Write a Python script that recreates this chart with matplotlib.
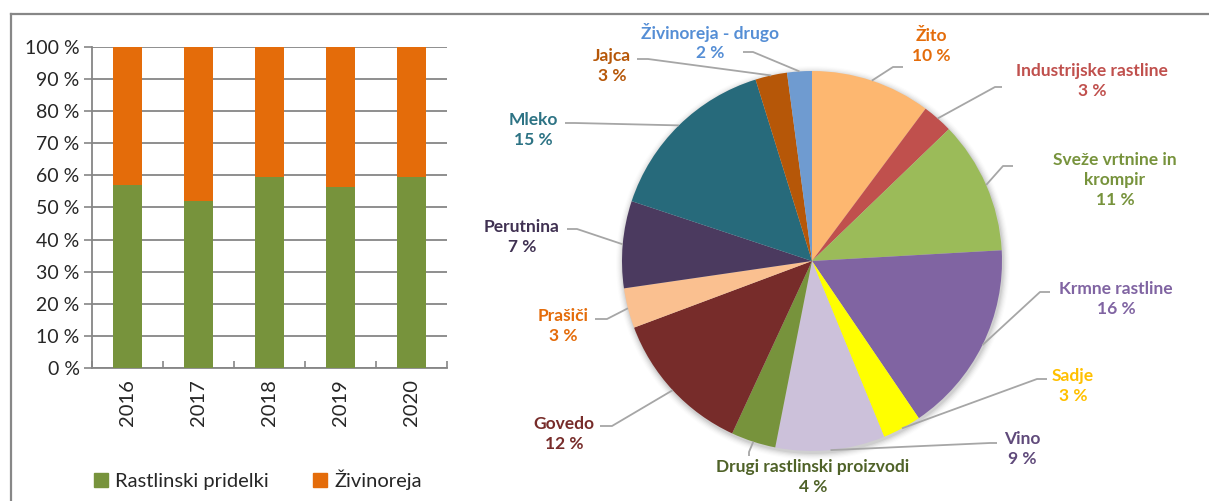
import numpy as np
import matplotlib
matplotlib.use("Agg")
import matplotlib.pyplot as plt
from matplotlib.lines import Line2D
from matplotlib.patches import Patch

plt.rcParams['font.family'] = ['Lato', 'DejaVu Sans']

# ---------------- data ----------------
years = ["2016", "2017", "2018", "2019", "2020"]
rastlinski = [0.57, 0.52, 0.595, 0.565, 0.595]
zivinoreja = [1 - v for v in rastlinski]
bar_series = ["Rastlinski pridelki", "Živinoreja"]
y_ticks = [0, 10, 20, 30, 40, 50, 60, 70, 80, 90, 100]

pie_names = ["Žito", "Industrijske rastline", "Sveže vrtnine in\nkrompir", "Krmne rastline",
             "Sadje", "Vino", "Drugi rastlinski proizvodi", "Govedo", "Prašiči",
             "Perutnina", "Mleko", "Jajca", "Živinoreja - drugo"]
pie_values = [10.2, 2.6, 11.3, 16.4, 3.3, 9.3, 3.8, 12.4, 3.4, 7.4, 15.1, 2.7, 2.1]

# ---------------- styles ----------------
W, H = 1209, 501
bar_colors = ["#77933C", "#E46C0A"]
pie_colors = ["#FDB770", "#C0504D", "#9BBB59", "#8064A2", "#FFFF00", "#CCC1DA",
              "#77933C", "#772C2A", "#FAC090", "#4B3A5F", "#276A7B", "#B65708", "#6F9BD0"]
label_colors = ["#E46C0A", "#C0504D", "#77933C", "#8064A2", "#FFC000", "#604A7B",
                "#4F6228", "#772C2A", "#E46C0A", "#403152", "#2D7384", "#B65708", "#558ED5"]
# label block centres (px, y down)
label_pos = [(931, 46), (1092, 81), (1115, 180), (1116, 299), (1073, 386), (1022, 449),
             (813, 477), (564, 434), (563, 326), (522, 237), (533, 130), (612, 66), (710, 42)]
# leader line start & elbow (px, y down)
leader_start = [(903, 67), (1002, 87), (1013, 166), (1050, 292), (1047, 379), (997, 443),
                (749, 456), (600, 426), (595, 319), (567, 229), (565, 123), (637, 59), (743, 52)]
leader_elbow = [(893, 67), (995, 87), (1003, 166), (1040, 292), (1037, 379), (990, 443),
                (749, 452), (612, 426), (607, 319), (577, 229), (575, 123), (648, 59), (753, 52)]
pie_cx, pie_cy, pie_r = 812, 261, 190

fig = plt.figure(figsize=(W / 100, H / 100), dpi=100)

# ---------------- bar chart ----------------
axb = fig.add_axes([92 / W, 1 - 368 / H, (447 - 92) / W, (368 - 47) / H])
x = np.arange(len(years))
axb.bar(x, rastlinski, width=0.41, color=bar_colors[0], zorder=3, label=bar_series[0])
axb.bar(x, zivinoreja, bottom=rastlinski, width=0.41, color=bar_colors[1], zorder=3,
        label=bar_series[1])
axb.set_xlim(-0.5, len(years) - 0.5)
axb.set_ylim(0, 1)
axb.set_yticks([t / 100 for t in y_ticks])
axb.set_yticklabels([f"{t} %" for t in y_ticks], fontsize=14, color="#262626")
axb.set_xticks(x)
axb.set_xticklabels(years, rotation=90, fontsize=14.5, color="#262626")
axb.set_xticks(np.arange(-0.5, len(years)), minor=True)
axb.tick_params(axis='x', which='major', length=0, pad=8)
axb.tick_params(axis='x', which='minor', direction='in', length=5, color="#868686", width=1.2)
axb.tick_params(axis='y', length=6, color="#868686", width=1.2, pad=3)
axb.yaxis.grid(True, color="#868686", lw=1.3, zorder=0)
for s in ["top", "right"]:
    axb.spines[s].set_visible(False)
for s in ["left", "bottom"]:
    axb.spines[s].set_color("#868686")
    axb.spines[s].set_linewidth(1.3)
axb.set_axisbelow(True)

handles = [Patch(color=c, label=l) for c, l in zip(bar_colors, bar_series)]
fig.legend(handles=handles, loc='center', bbox_to_anchor=(258 / W, 1 - 480 / H), ncol=2,
           frameon=False, fontsize=14.5, handlelength=0.7, handleheight=0.7,
           handletextpad=0.35, columnspacing=2.2, labelcolor="#262626")

# ---------------- pie chart ----------------
axp = fig.add_axes([0, 0, 1, 1])
axp.patch.set_alpha(0)

# soft shadow
for i, a in enumerate(np.linspace(0.05, 0.012, 6)):
    circ = plt.Circle((pie_cx + 1, H - pie_cy - 2), pie_r + 1 + i * 1.2, color="black",
                      alpha=a, lw=0, zorder=1)
    axp.add_patch(circ)

wedges, _ = axp.pie(pie_values, colors=pie_colors, startangle=90, counterclock=False,
                    center=(pie_cx, H - pie_cy), radius=pie_r, frame=True,
                    wedgeprops=dict(linewidth=0, zorder=2))
axp.set_xlim(0, W)
axp.set_ylim(0, H)
axp.set_aspect('auto')
axp.axis('off')

total = sum(pie_values)
cum = np.cumsum([0] + pie_values)
for i, (name, v) in enumerate(zip(pie_names, pie_values)):
    mid = (cum[i] + v / 2) / total * 2 * np.pi
    ax_x = pie_cx + pie_r * np.sin(mid)
    ax_y = pie_cy - pie_r * np.cos(mid)
    sx, sy = leader_start[i]
    ex, ey = leader_elbow[i]
    axp.add_line(Line2D([sx, ex, ax_x], [H - sy, H - ey, H - ax_y], color="#A6A6A6",
                        lw=1.3, zorder=3, solid_capstyle='butt'))
    lx, ly = label_pos[i]
    axp.text(lx, H - ly, f"{name}\n{round(v)} %", ha='center', va='center',
             fontsize=12.5, fontweight='bold', color=label_colors[i], linespacing=1.3,
             zorder=4)

# ---------------- frame ----------------
axp.add_line(Line2D([10.5, W], [H - 13.5, H - 13.5], color="#878787", lw=1.6, zorder=5))
axp.add_line(Line2D([10.5, 10.5], [0, H - 13.5], color="#878787", lw=1.6, zorder=5))

fig.savefig("out.png", dpi=100)
